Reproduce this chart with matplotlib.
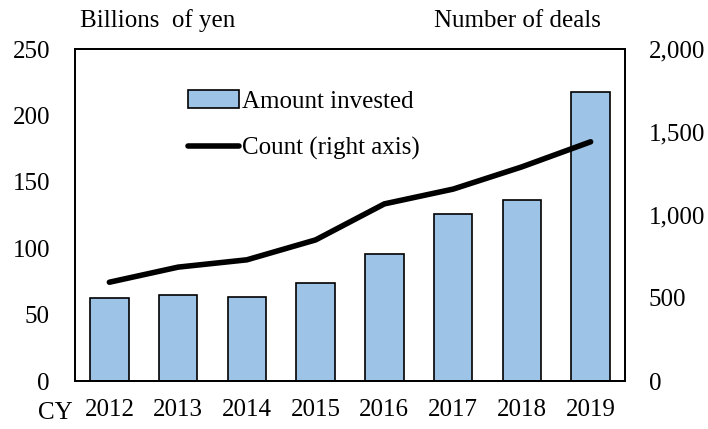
import matplotlib
matplotlib.use("Agg")
import matplotlib.pyplot as plt
import numpy as np

plt.rcParams['font.family'] = ['Liberation Serif', 'DejaVu Serif']

years = ["2012", "2013", "2014", "2015", "2016", "2017", "2018", "2019"]
amount = [62.3, 64.8, 63.5, 74.1, 95.7, 125.8, 136.4, 217.3]
count = [595, 686, 730, 850, 1067, 1156, 1290, 1441]

fs = 18
fig = plt.figure(figsize=(7.08, 4.29), dpi=100)
ax = fig.add_axes([75 / 708, 1 - 381 / 429, 550 / 708, 332 / 429])
ax2 = ax.twinx()

x = np.arange(len(years))
bars = ax.bar(x, amount, width=0.56, color="#9dc3e6", edgecolor="black",
              linewidth=1.2, label="Amount invested", zorder=2)
line, = ax2.plot(x, count, color="black", linewidth=4, label="Count (right axis)",
                 solid_capstyle="round", zorder=3)

ax.set_xlim(-0.5, len(years) - 0.5)
ax.set_ylim(0, 250)
ax2.set_ylim(0, 2000)
ax.set_yticks([0, 50, 100, 150, 200, 250])
ax2.set_yticks([0, 500, 1000, 1500, 2000])
ax2.set_yticklabels(["0", "500", "1,000", "1,500", "2,000"])
ax.set_xticks(x)
ax.set_xticklabels(years)

for a in (ax, ax2):
    a.tick_params(length=0, labelsize=fs)
    for s in a.spines.values():
        s.set_linewidth(1.3)
ax.tick_params(axis="y", pad=18)
ax2.tick_params(axis="y", pad=17)
ax.tick_params(axis="x", pad=13)

fig.text(80 / 708, 1 - 21 / 429, "Billions  of yen", fontsize=fs, va="center", ha="left")
fig.text(601 / 708, 1 - 21 / 429, "Number of deals", fontsize=fs, va="center", ha="right")
fig.text(38 / 708, 1 - 413 / 429, "CY", fontsize=fs, va="center", ha="left")

ax.legend([bars, line], ["Amount invested", "Count (right axis)"],
          loc="upper left", bbox_to_anchor=(0.164, 0.943), frameon=False,
          fontsize=fs, handlelength=2.05, handletextpad=0.12, labelspacing=0.95)

fig.savefig("out.png", dpi=100)
